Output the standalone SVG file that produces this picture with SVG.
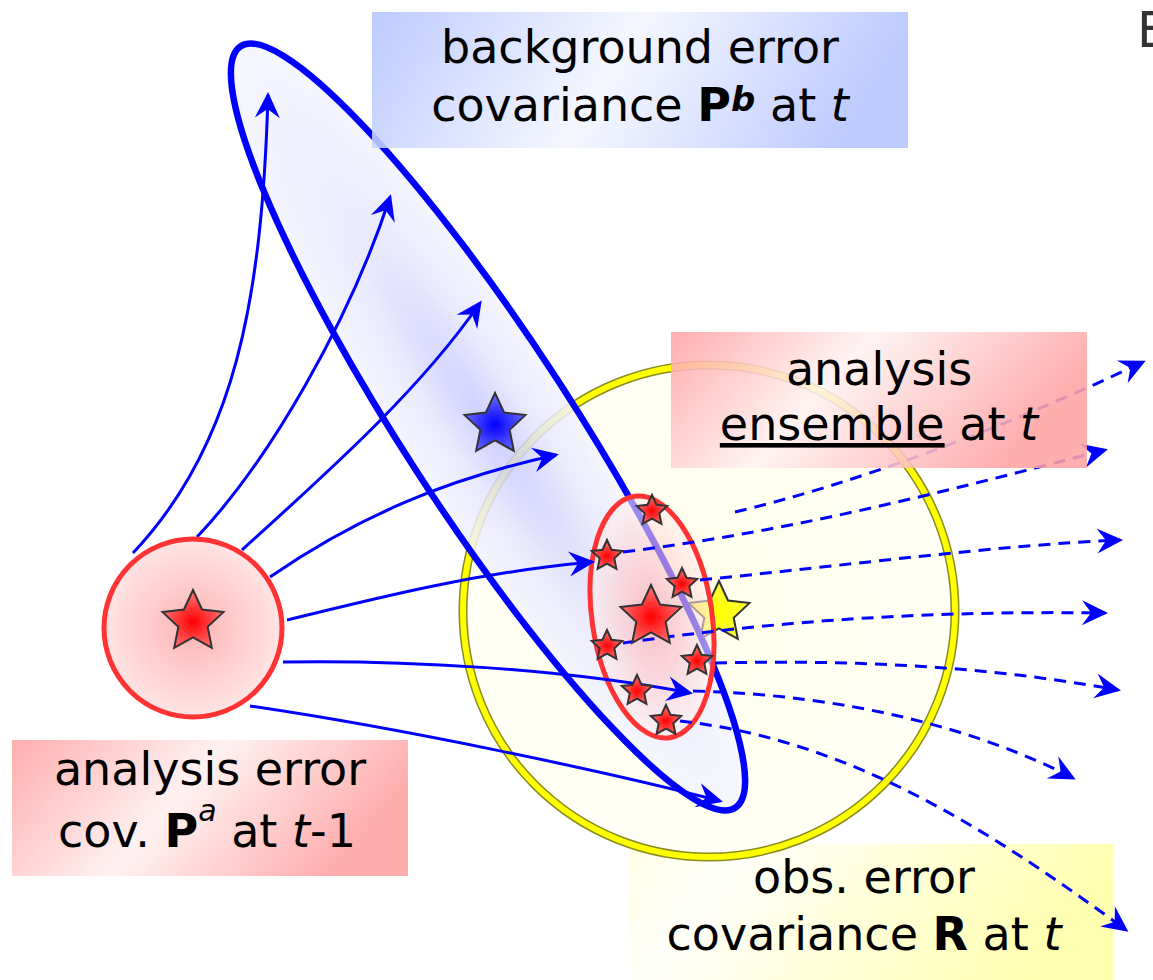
<svg xmlns="http://www.w3.org/2000/svg" width="1153" height="980" viewBox="0 0 1153 980">
<defs>
<style>
.lbl{font-family:"DejaVu Sans",Verdana,sans-serif;font-size:46px;fill:#000;text-anchor:middle}
.b{font-weight:bold}
.i{font-style:italic}
.sol{fill:none;stroke:#0000ff;stroke-width:3;marker-end:url(#ah)}
.dash{fill:none;stroke:#0000ff;stroke-width:3;stroke-dasharray:12 8;marker-end:url(#ah)}
.star{stroke:#333;stroke-width:2}
.box{opacity:0.88}
</style>
<marker id="ah" markerUnits="userSpaceOnUse" orient="auto" overflow="visible" refX="0" refY="0" markerWidth="1" markerHeight="1">
<path d="M3,0 L-23,-12.5 L-14,0 L-23,12.5 Z" fill="#0000ff"/>
</marker>
<path id="starL" d="M0,-32 L9.05,-12.46 L30.44,-9.89 L14.65,4.76 L18.81,25.89 L0,15.4 L-18.81,25.89 L-14.65,4.76 L-30.44,-9.89 L-9.05,-12.46 Z"/>
<path id="starS" d="M0,-16 L4.53,-6.23 L15.22,-4.94 L7.33,2.38 L9.40,12.94 L0,7.7 L-9.40,12.94 L-7.33,2.38 L-15.22,-4.94 L-4.53,-6.23 Z"/>
<radialGradient id="gRedStar" cx="0.5" cy="0.55" r="0.55">
<stop offset="0" stop-color="#ff0000"/><stop offset="1" stop-color="#ff7a7a"/>
</radialGradient>
<radialGradient id="gBlueStar" cx="0.5" cy="0.55" r="0.55">
<stop offset="0" stop-color="#0000ff"/><stop offset="1" stop-color="#7070ff"/>
</radialGradient>
<radialGradient id="gYelStar" cx="0.5" cy="0.55" r="0.55">
<stop offset="0" stop-color="#ffff00"/><stop offset="1" stop-color="#ffff40"/>
</radialGradient>
<radialGradient id="gPa" cx="0.5" cy="0.5" r="0.5">
<stop offset="0" stop-color="#ffb4b4"/><stop offset="1" stop-color="#ffe4e4"/>
</radialGradient>
<radialGradient id="gRedEll" cx="0.5" cy="0.5" r="0.5">
<stop offset="0" stop-color="#ffa0a0"/><stop offset="1" stop-color="#fff0f0"/>
</radialGradient>
<radialGradient id="gBlueEll" cx="0.5" cy="0.5" r="0.55">
<stop offset="0" stop-color="#c8c8ff"/><stop offset="0.45" stop-color="#e6e6ff"/><stop offset="1" stop-color="#f8f8ff"/>
</radialGradient>
<radialGradient id="gYelCirc" cx="0.5" cy="0.5" r="0.5">
<stop offset="0" stop-color="#ffffea"/><stop offset="1" stop-color="#fffff6"/>
</radialGradient>
<linearGradient id="gBlueBox" x1="0" y1="0" x2="1" y2="0.15">
<stop offset="0" stop-color="#b4c4ff"/><stop offset="0.5" stop-color="#f4f6ff"/><stop offset="1" stop-color="#b4c4ff"/>
</linearGradient>
<linearGradient id="gPinkBox1" x1="0" y1="0" x2="1" y2="0.3">
<stop offset="0" stop-color="#ffa2a2"/><stop offset="0.45" stop-color="#fff2f2"/><stop offset="1" stop-color="#ffa2a2"/>
</linearGradient>
<linearGradient id="gPinkBox2" x1="0" y1="0" x2="1" y2="0.3">
<stop offset="0" stop-color="#ffa2a2"/><stop offset="0.5" stop-color="#fff0f0"/><stop offset="1" stop-color="#ffa2a2"/>
</linearGradient>
<linearGradient id="gYelBox" x1="0" y1="0" x2="1" y2="0.2">
<stop offset="0" stop-color="#ffffe4"/><stop offset="0.22" stop-color="#fffffa"/><stop offset="1" stop-color="#ffffb0"/>
</linearGradient>
</defs>

<rect x="0" y="0" width="1153" height="980" fill="#ffffff"/>

<g id="label-obs">
<rect x="629" y="844" width="484" height="136" fill="url(#gYelBox)"/>
<text class="lbl" x="864" y="893">obs. error</text>
<text class="lbl" x="864" y="950">covariance <tspan class="b">R</tspan> at <tspan class="i">t</tspan></text>
</g>

<g id="obs-circle">
<circle cx="709" cy="611" r="246" fill="url(#gYelCirc)" stroke="#8a8a20" stroke-width="9"/>
<circle cx="709" cy="611" r="246" fill="none" stroke="#ffff00" stroke-width="6"/>
</g>

<g id="yellow-star">
<use href="#starL" x="719" y="613" class="star" fill="url(#gYelStar)"/>
</g>

<g id="background-ellipse">
<ellipse cx="488" cy="427" rx="454" ry="84" transform="rotate(57 488 427)" fill="url(#gBlueEll)" fill-opacity="0.85" stroke="#0000ff" stroke-width="6.5"/>
</g>

<g id="analysis-ellipse">
<ellipse cx="652" cy="617" rx="60" ry="122" transform="rotate(-8.3 652 617)" fill="url(#gRedEll)" fill-opacity="0.6" stroke="#ff3333" stroke-width="5"/>
</g>

<g id="connectors">
<path class="sol" d="M133,553 C235,445 262,300 268,95"/>
<path class="sol" d="M197,537 C270,460 350,320 390,197"/>
<path class="sol" d="M242,550 C330,470 420,390 480,303"/>
<path class="sol" d="M270,577 C360,515 450,478 556,455"/>
<path class="sol" d="M287,620 C380,597 480,572 592,562"/>
<path class="sol" d="M283,662 C400,660 560,668 690,693"/>
<path class="sol" d="M250,706 C400,728 600,770 720,801"/>
<path class="dash" d="M735,512 C850,485 1000,430 1143,362"/>
<path class="dash" d="M623,552 C800,530 950,490 1105,450"/>
<path class="dash" d="M700,580 C850,565 1000,545 1120,540"/>
<path class="dash" d="M623,643 C750,625 900,610 1105,613"/>
<path class="dash" d="M715,663 C850,660 980,665 1118,690"/>
<path class="dash" d="M693,691 C850,695 980,730 1073,778"/>
<path class="dash" d="M680,721 C850,740 990,830 1126,930"/>
</g>

<g id="ensemble-stars">
<use href="#starS" x="652" y="511" class="star" fill="url(#gRedStar)"/>
<use href="#starS" x="607" y="556" class="star" fill="url(#gRedStar)"/>
<use href="#starS" x="682" y="584" class="star" fill="url(#gRedStar)"/>
<use href="#starS" x="607" y="646" class="star" fill="url(#gRedStar)"/>
<use href="#starS" x="697" y="661" class="star" fill="url(#gRedStar)"/>
<use href="#starS" x="637" y="691" class="star" fill="url(#gRedStar)"/>
<use href="#starS" x="666" y="721" class="star" fill="url(#gRedStar)"/>
<use href="#starL" x="651" y="617" class="star" fill="url(#gRedStar)"/>
</g>

<g id="blue-star">
<use href="#starL" x="495" y="425" class="star" fill="url(#gBlueStar)"/>
</g>

<g id="pa-circle">
<circle cx="193" cy="628" r="89" fill="url(#gPa)" stroke="#ff3333" stroke-width="5"/>
<use href="#starL" x="193" y="622" class="star" fill="url(#gRedStar)"/>
</g>

<g id="label-background">
<rect class="box" x="372" y="12" width="536" height="136" fill="url(#gBlueBox)"/>
<text class="lbl" x="640" y="63">background error</text>
<text class="lbl" x="640" y="121">covariance <tspan class="b">P</tspan><tspan class="b i" font-size="34" dy="-10">b</tspan><tspan dy="10"> at </tspan><tspan class="i">t</tspan></text>
</g>

<g id="label-ensemble">
<rect class="box" x="671" y="332" width="416" height="136" fill="url(#gPinkBox1)"/>
<text class="lbl" x="879" y="385">analysis</text>
<text class="lbl" x="879" y="440"><tspan text-decoration="underline">ensemble</tspan> at <tspan class="i">t</tspan></text>
</g>

<g id="label-analysis">
<rect class="box" x="12" y="740" width="396" height="136" fill="url(#gPinkBox2)"/>
<text class="lbl" x="210" y="785">analysis error</text>
<text class="lbl" x="207" y="847">cov. <tspan class="b">P</tspan><tspan class="i" font-size="30" dy="-26">a</tspan><tspan dy="26"> at </tspan><tspan class="i">t</tspan>-1</text>
</g>

<text x="1137" y="47" font-family="DejaVu Sans, Verdana, sans-serif" font-size="50" fill="#333">E</text>
</svg>
